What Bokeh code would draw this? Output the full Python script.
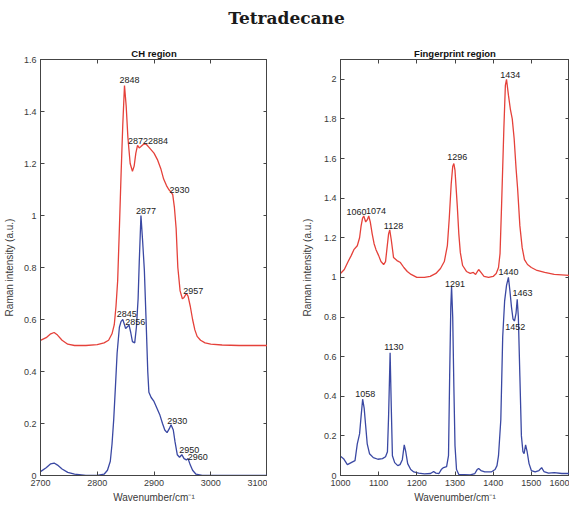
from bokeh.plotting import figure
from bokeh.models import Div, FixedTicker, LinearAxis, Range1d, Spacer
from bokeh.layouts import column, row
from bokeh.embed import file_html
from bokeh.resources import INLINE
from bokeh.core.properties import value

# ---------------- CH region data ----------------
ch_red_x = [2700, 2710, 2718, 2724, 2730, 2738, 2748, 2760, 2780, 2800, 2812, 2820, 2826, 2830, 2833,
            2836, 2839, 2842, 2845, 2848, 2851, 2854, 2858, 2862, 2865, 2868, 2871, 2874, 2877, 2882,
            2886, 2892, 2900, 2906, 2912, 2917, 2922, 2926, 2930, 2933, 2936, 2939, 2942, 2946, 2950,
            2953, 2957, 2960, 2964, 2968, 2972, 2976, 2982, 2990, 3000, 3020, 3050, 3100]
ch_red_y = [0.52, 0.53, 0.545, 0.55, 0.54, 0.52, 0.505, 0.5, 0.5, 0.503, 0.51, 0.52, 0.545, 0.58, 0.65,
            0.75, 0.95, 1.16, 1.35, 1.5, 1.42, 1.3, 1.2, 1.17, 1.19, 1.24, 1.27, 1.26, 1.265, 1.275,
            1.275, 1.26, 1.24, 1.215, 1.18, 1.14, 1.115, 1.1, 1.09, 1.08, 1.03, 0.95, 0.8, 0.71, 0.68,
            0.685, 0.7, 0.69, 0.65, 0.6, 0.56, 0.535, 0.52, 0.51, 0.505, 0.502, 0.5, 0.5]

ch_blue_x = [2700, 2710, 2718, 2724, 2730, 2738, 2748, 2760, 2780, 2800, 2812, 2818, 2823, 2826, 2829,
             2832, 2835, 2839, 2842, 2845, 2848, 2850, 2853, 2856, 2859, 2862, 2866, 2869, 2872, 2874,
             2877, 2880, 2883, 2886, 2889, 2891, 2895, 2900, 2905, 2910, 2915, 2919, 2923, 2927, 2930,
             2934, 2937, 2941, 2945, 2949, 2953, 2957, 2960, 2964, 2968, 2974, 2985, 3100]
ch_blue_y = [0.015, 0.03, 0.045, 0.048, 0.04, 0.025, 0.012, 0.005, 0.0, 0.0, 0.005, 0.02, 0.055, 0.12, 0.215,
             0.34, 0.47, 0.57, 0.593, 0.6, 0.58, 0.565, 0.572, 0.578, 0.55, 0.515, 0.51, 0.57, 0.68, 0.82,
             1.0, 0.9, 0.79, 0.6, 0.4, 0.32, 0.3, 0.285, 0.26, 0.235, 0.2, 0.175, 0.165, 0.18, 0.195,
             0.175, 0.13, 0.08, 0.07, 0.08, 0.065, 0.06, 0.065, 0.04, 0.02, 0.005, 0.0, 0.0]

ch_lab_x = [2857, 2872, 2907, 2945, 2886, 2969, 2852, 2867, 2941, 2962, 2977]
ch_lab_y = [1.52, 1.286, 1.286, 1.097, 1.017, 0.71, 0.623, 0.592, 0.208, 0.10, 0.073]
ch_lab_t = ["2848", "2872", "2884", "2930", "2877", "2957", "2845", "2856", "2930", "2950", "2960"]

# ---------------- Fingerprint region data ----------------
fp_red_x = [1000, 1010, 1020, 1028, 1035, 1044, 1050, 1054, 1058, 1061, 1066, 1070, 1074, 1078, 1083,
            1088, 1093, 1100, 1106, 1113, 1118, 1122, 1126, 1129, 1133, 1139, 1148, 1157, 1166, 1175,
            1185, 1200, 1220, 1235, 1250, 1262, 1272, 1280, 1285, 1290, 1294, 1297, 1300, 1306, 1310,
            1314, 1320, 1330, 1340, 1348, 1354, 1362, 1368, 1376, 1388, 1400, 1408, 1414, 1418, 1422,
            1428, 1432, 1435, 1440, 1445, 1450, 1455, 1460, 1464, 1470, 1476, 1482, 1490, 1500, 1515,
            1535, 1560, 1600]
fp_red_y = [1.02, 1.04, 1.08, 1.11, 1.14, 1.16, 1.2, 1.26, 1.3, 1.31, 1.28, 1.29, 1.31, 1.28, 1.22,
            1.17, 1.14, 1.11, 1.08, 1.065, 1.08, 1.15, 1.22, 1.24, 1.19, 1.1, 1.085, 1.075, 1.05, 1.03,
            1.015, 1.0, 1.0, 1.005, 1.02, 1.045, 1.08, 1.16, 1.3, 1.47, 1.56, 1.575, 1.54, 1.36, 1.22,
            1.125, 1.06, 1.03, 1.02, 1.025, 1.015, 1.04, 1.025, 1.005, 1.0, 1.005, 1.02, 1.05, 1.12, 1.36,
            1.75, 1.97, 2.0, 1.92, 1.85, 1.8, 1.7, 1.55, 1.45, 1.26, 1.15, 1.09, 1.065, 1.05, 1.035,
            1.025, 1.015, 1.01]

fp_blue_x = [1000, 1008, 1018, 1028, 1038, 1044, 1050, 1054, 1058, 1062, 1066, 1070, 1076, 1086, 1098,
             1110, 1118, 1123, 1126, 1130, 1133, 1136, 1142, 1150, 1156, 1162, 1167, 1171, 1176, 1184,
             1192, 1205, 1220, 1236, 1244, 1250, 1258, 1264, 1270, 1278, 1283, 1286, 1289, 1291, 1294,
             1297, 1300, 1304, 1310, 1340, 1352, 1358, 1362, 1368, 1378, 1395, 1405, 1410, 1414, 1420,
             1425, 1430, 1435, 1440, 1444, 1448, 1452, 1456, 1460, 1463, 1466, 1470, 1474, 1478, 1481,
             1485, 1489, 1494, 1500, 1510, 1520, 1527, 1533, 1545, 1560, 1580, 1600]
fp_blue_y = [0.097, 0.085, 0.055, 0.065, 0.075, 0.16, 0.21, 0.3, 0.385, 0.34, 0.25, 0.16, 0.11, 0.09, 0.082,
             0.085, 0.095, 0.12, 0.3, 0.62, 0.35, 0.1, 0.065, 0.05, 0.055, 0.08, 0.155, 0.12, 0.06, 0.03,
             0.018, 0.012, 0.008, 0.01, 0.02, 0.012, 0.01, 0.03, 0.04, 0.045, 0.1, 0.5, 0.85, 0.955, 0.8,
             0.45, 0.15, 0.03, 0.005, 0.003, 0.01, 0.03, 0.035, 0.025, 0.018, 0.018, 0.03, 0.05, 0.1, 0.28,
             0.7, 0.88, 0.96, 1.0, 0.93, 0.85, 0.79, 0.78, 0.82, 0.89, 0.8, 0.5, 0.2, 0.12, 0.11,
             0.155, 0.12, 0.06, 0.025, 0.018, 0.025, 0.04, 0.02, 0.012, 0.015, 0.01, 0.01]

fp_lab_x = [1042, 1093, 1139, 1306, 1445, 1440, 1300, 1477, 1458, 1140, 1065]
fp_lab_y = [1.33, 1.335, 1.26, 1.61, 2.02, 1.025, 0.965, 0.92, 0.75, 0.65, 0.41]
fp_lab_t = ["1060", "1074", "1128", "1296", "1434", "1440", "1291", "1463", "1452", "1130", "1058"]

ch_xticks = [2700, 2800, 2900, 3000, 3100]
ch_yticks = [0, 0.2, 0.4, 0.6, 0.8, 1, 1.2, 1.4, 1.6]
fp_xticks = [1000, 1100, 1200, 1300, 1400, 1500, 1600]
fp_yticks = [0, 0.2, 0.4, 0.6, 0.8, 1, 1.2, 1.4, 1.6, 1.8, 2]

RED = "#e5413a"
BLUE = "#3a48a3"
AX = "#444444"
FONT = "Liberation Sans"


def style_axis(a):
    a.major_tick_in = 4
    a.major_tick_out = 0
    a.minor_tick_in = 0
    a.minor_tick_out = 0
    a.minor_tick_line_color = None
    a.axis_line_color = AX
    a.major_tick_line_color = AX


def make_panel(title, xr, yr, xt, yt, fw, yl_standoff):
    p = figure(frame_width=fw, frame_height=416, output_backend="svg", toolbar_location=None,
               x_range=Range1d(*xr), y_range=Range1d(*yr),
               min_border_left=0, min_border_right=0, min_border_top=0, min_border_bottom=0)
    p.title.text = title
    p.title.align = "center"
    p.title.text_font = FONT
    p.title.text_font_size = "9.5px"
    p.title.text_color = "#111111"
    p.title.offset = 0
    p.title.standoff = 2
    p.grid.visible = False
    p.outline_line_color = AX
    p.outline_line_width = 1
    for ax in (p.xaxis[0], p.yaxis[0]):
        style_axis(ax)
        ax.major_label_text_font = FONT
        ax.major_label_text_font_size = "9px"
        ax.major_label_text_color = "#3a3a3a"
        ax.axis_label_text_font = FONT
        ax.axis_label_text_font_size = "10px"
        ax.axis_label_text_font_style = "normal"
        ax.axis_label_text_color = "#3a3a3a"
    p.xaxis.ticker = FixedTicker(ticks=xt)
    p.yaxis.ticker = FixedTicker(ticks=yt)
    p.yaxis.major_label_overrides = {0: "0", 1: "1", 2: "2"}
    p.xaxis.axis_label = "Wavenumber/cm\u207b\u00b9"
    p.yaxis.axis_label = "Raman intensity (a.u.)"
    p.xaxis.major_label_standoff = 4
    p.xaxis.axis_label_standoff = 3
    p.yaxis.major_label_standoff = 4
    p.yaxis.axis_label_standoff = yl_standoff
    # mirrored ticks
    for loc, tk in (("above", xt), ("right", yt)):
        a = LinearAxis(ticker=FixedTicker(ticks=tk))
        style_axis(a)
        a.major_label_overrides = {t: "" for t in tk}
        a.major_label_text_font_size = "1px"
        a.major_label_standoff = 0
        a.axis_label_standoff = 0
        p.add_layout(a, loc)
    return p


p1 = make_panel("CH region", (2700, 3100), (0, 1.6), ch_xticks, ch_yticks, 227, 6)
p1.line(ch_red_x, ch_red_y, line_color=RED, line_width=1.3)
p1.line(ch_blue_x, ch_blue_y, line_color=BLUE, line_width=1.3)
p1.text(ch_lab_x, ch_lab_y, text=ch_lab_t, text_font=value(FONT), text_font_size="9px",
        text_align="center", text_baseline="middle", text_color="#222222")

p2 = make_panel("Fingerprint region", (1000, 1600), (0, 2.1), fp_xticks, fp_yticks, 229, 8)
p2.line(fp_red_x, fp_red_y, line_color=RED, line_width=1.3)
p2.line(fp_blue_x, fp_blue_y, line_color=BLUE, line_width=1.3)
p2.text(fp_lab_x, fp_lab_y, text=fp_lab_t, text_font=value(FONT), text_font_size="9px",
        text_align="center", text_baseline="middle", text_color="#222222")

title = Div(text='<div style="width:563px;text-align:center;font-family:\'DejaVu Serif\';'
                 'font-weight:bold;font-size:17px;color:#1a1a1a;line-height:26px;">Tetradecane</div>',
            width=563, height=34)

layout = column(title, row(p1, Spacer(width=31), p2))
open("out.html", "w").write(file_html(layout, INLINE))
